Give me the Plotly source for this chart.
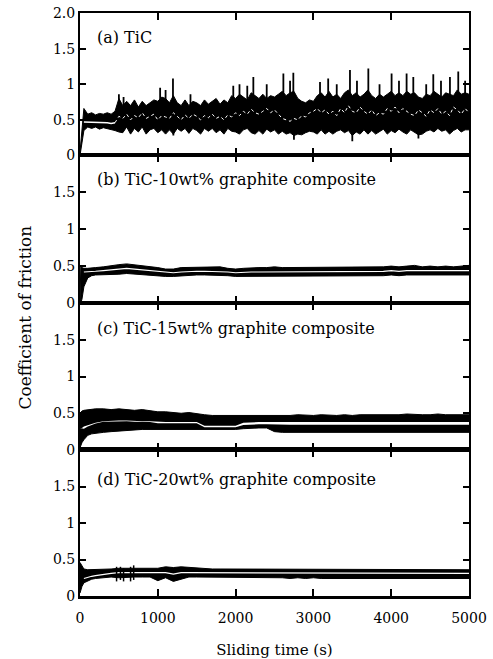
import plotly.graph_objects as go
from plotly.subplots import make_subplots

# ---------------- data ----------------
# (a) TiC : sampled every 50 s
time_a = list(range(0, 5001, 50))
upper_a = [0.05, 0.66, 0.58, 0.60, 0.57, 0.59, 0.58, 0.60, 0.58, 0.62,
           0.80, 0.70, 0.76, 0.70, 0.78, 0.68, 0.76, 0.70, 0.74, 0.78,
           0.76, 0.82, 0.80, 0.74, 0.84, 0.74, 0.70, 0.78, 0.70, 0.76,
           0.74, 0.70, 0.78, 0.72, 0.76, 0.80, 0.72, 0.78, 0.74, 0.84,
           0.80, 0.86, 0.82, 0.78, 0.88, 0.84, 0.80, 0.86, 0.80, 0.84,
           0.82, 0.86, 0.90, 0.84, 0.88, 0.90, 0.80, 0.76, 0.74, 0.78,
           0.76, 0.84, 0.88, 0.82, 0.90, 0.82, 0.86, 0.80, 0.88, 0.92,
           0.84, 0.88, 0.82, 0.86, 0.92, 0.84, 0.80, 0.86, 0.82, 0.86,
           0.90, 0.84, 0.88, 0.84, 0.90, 0.86, 0.88, 0.82, 0.80, 0.86,
           0.84, 0.90, 0.86, 0.82, 0.88, 0.86, 0.84, 0.92, 0.86, 0.88,
           0.86]
lower_a = [0.00, 0.35, 0.40, 0.38, 0.40, 0.37, 0.39, 0.38, 0.36, 0.35,
           0.33, 0.32, 0.40, 0.30, 0.38, 0.33, 0.40, 0.30, 0.36, 0.38,
           0.32, 0.36, 0.30, 0.36, 0.30, 0.38, 0.34, 0.38, 0.31, 0.38,
           0.35, 0.30, 0.38, 0.34, 0.38, 0.32, 0.36, 0.30, 0.38, 0.34,
           0.33, 0.30, 0.36, 0.38, 0.32, 0.30, 0.35, 0.30, 0.37, 0.33,
           0.36, 0.30, 0.34, 0.30, 0.32, 0.28, 0.30, 0.29, 0.32, 0.34,
           0.33, 0.30, 0.36, 0.30, 0.34, 0.30, 0.34, 0.36, 0.32, 0.35,
           0.28, 0.33, 0.30, 0.36, 0.30, 0.35, 0.30, 0.34, 0.37, 0.30,
           0.35, 0.32, 0.37, 0.33, 0.30, 0.36, 0.32, 0.29, 0.30, 0.34,
           0.36, 0.33, 0.38, 0.34, 0.36, 0.30, 0.35, 0.38, 0.33, 0.36,
           0.36]
mid_a = [0.02, 0.47, 0.47, 0.46, 0.47, 0.46, 0.47, 0.46, 0.45, 0.46,
         0.55, 0.52, 0.58, 0.50, 0.56, 0.53, 0.60, 0.52, 0.55, 0.58,
         0.50, 0.56, 0.54, 0.52, 0.60, 0.55, 0.50, 0.57, 0.52, 0.58,
         0.55, 0.50, 0.56, 0.53, 0.58, 0.52, 0.55, 0.50, 0.57, 0.54,
         0.60, 0.56, 0.62, 0.58, 0.65, 0.60, 0.58, 0.62, 0.66, 0.60,
         0.64, 0.58, 0.52, 0.50, 0.48, 0.52, 0.50, 0.56, 0.54, 0.60,
         0.62, 0.66, 0.60, 0.64, 0.58, 0.62, 0.56, 0.66, 0.60, 0.70,
         0.62, 0.60, 0.68, 0.62, 0.58, 0.64, 0.56, 0.60, 0.58, 0.66,
         0.62, 0.68, 0.60, 0.66, 0.62, 0.58, 0.56, 0.64, 0.60, 0.55,
         0.64, 0.60, 0.66, 0.58, 0.62, 0.56, 0.68, 0.64, 0.58, 0.66,
         0.60]
# narrow excursions of (a): time, peak value (upward spikes)
spike_t_a = [500, 560, 1030, 1100, 1195, 1420, 1970, 2050, 2150, 2228, 2400,
             2614, 2700, 2742, 3085, 3190, 3300, 3470, 3560, 3706, 3850,
             4005, 4100, 4198, 4284, 4450, 4541, 4640, 4755, 4862, 4950]
spike_hi_a = [0.86, 0.82, 0.95, 0.92, 1.08, 0.86, 0.98, 1.00, 0.98, 1.10, 1.00,
              1.15, 1.05, 1.16, 1.03, 1.08, 1.00, 1.20, 1.05, 1.22, 1.00,
              1.15, 1.05, 1.15, 1.10, 1.00, 1.14, 1.05, 1.10, 1.18, 1.05]
# downward dips of (a): time, minimum value
dip_t_a = [1200, 2750, 3500, 4350]
dip_lo_a = [0.28, 0.22, 0.20, 0.24]

# (b)-(d) composites: common sampling times
time_bcd = [0, 10, 25, 50, 100, 150] + list(range(200, 5001, 100))

# (b) TiC-10wt% graphite
top_b = [0.00, 0.49, 0.48, 0.47, 0.47, 0.48, 0.48,
         0.49, 0.51, 0.52, 0.53, 0.52, 0.51, 0.49,
         0.48, 0.46, 0.46, 0.48, 0.48, 0.49, 0.48,
         0.48, 0.49, 0.47, 0.46, 0.47, 0.48, 0.48,
         0.48, 0.49, 0.48, 0.48, 0.49, 0.48, 0.48,
         0.49, 0.48, 0.48, 0.49, 0.48, 0.49, 0.49,
         0.48, 0.49, 0.50, 0.49, 0.50, 0.51, 0.49,
         0.50, 0.49, 0.50, 0.49, 0.50, 0.51]
bot_b = [0.00, 0.00, 0.05, 0.22, 0.34, 0.37, 0.38,
         0.38, 0.39, 0.39, 0.40, 0.39, 0.39, 0.38,
         0.37, 0.36, 0.36, 0.37, 0.38, 0.38, 0.38,
         0.38, 0.38, 0.37, 0.36, 0.36, 0.37, 0.37,
         0.37, 0.37, 0.37, 0.37, 0.37, 0.37, 0.37,
         0.37, 0.37, 0.37, 0.37, 0.37, 0.37, 0.37,
         0.37, 0.37, 0.38, 0.37, 0.38, 0.38, 0.37,
         0.38, 0.37, 0.38, 0.37, 0.38, 0.38]
mid_b = [None, None, None, 0.42, 0.42, 0.43, 0.43,
         0.44, 0.45, 0.46, 0.47, 0.46, 0.45, 0.44,
         0.43, 0.41, 0.41, 0.42, 0.43, 0.43, 0.43,
         0.43, 0.43, 0.42, 0.41, 0.42, 0.42, 0.42,
         0.42, 0.43, 0.42, 0.42, 0.43, 0.42, 0.42,
         0.43, 0.42, 0.42, 0.43, 0.42, 0.43, 0.43,
         0.42, 0.43, 0.44, 0.43, 0.44, 0.44, 0.43,
         0.44, 0.43, 0.44, 0.43, 0.44, 0.44]

# (c) TiC-15wt% graphite
top_c = [0.50, 0.52, 0.53, 0.54, 0.55, 0.55, 0.56,
         0.56, 0.55, 0.56, 0.55, 0.54, 0.55, 0.53,
         0.52, 0.52, 0.51, 0.50, 0.51, 0.49, 0.48,
         0.47, 0.47, 0.46, 0.47, 0.46, 0.46, 0.46,
         0.46, 0.47, 0.47, 0.47, 0.48, 0.47, 0.47,
         0.48, 0.47, 0.47, 0.48, 0.47, 0.48, 0.48,
         0.47, 0.48, 0.48, 0.48, 0.49, 0.48, 0.48,
         0.48, 0.49, 0.48, 0.48, 0.48, 0.48]
bot_c = [0.03, 0.06, 0.10, 0.14, 0.20, 0.22, 0.23,
         0.24, 0.25, 0.26, 0.27, 0.27, 0.28, 0.28,
         0.28, 0.28, 0.28, 0.28, 0.28, 0.28, 0.27,
         0.27, 0.28, 0.27, 0.28, 0.29, 0.30, 0.30,
         0.30, 0.25, 0.24, 0.24, 0.24, 0.23, 0.24,
         0.24, 0.24, 0.23, 0.24, 0.24, 0.23, 0.24,
         0.24, 0.23, 0.24, 0.24, 0.23, 0.24, 0.24,
         0.23, 0.24, 0.24, 0.23, 0.24, 0.24]
gap_hi_c = [0.30, 0.30, 0.30, 0.32, 0.34, 0.36, 0.37,
            0.39, 0.40, 0.40, 0.40, 0.39, 0.39, 0.39,
            0.38, 0.38, 0.38, 0.38, 0.38, 0.38, 0.33,
            0.33, 0.33, 0.33, 0.33, 0.37, 0.38, 0.38,
            0.38, 0.38, 0.38, 0.38, 0.38, 0.38, 0.38,
            0.38, 0.38, 0.385, 0.38, 0.38, 0.385, 0.38,
            0.38, 0.385, 0.38, 0.38, 0.385, 0.38, 0.38,
            0.385, 0.38, 0.38, 0.385, 0.38, 0.38]
gap_lo_c = [0.30, 0.30, 0.30, 0.29, 0.32, 0.345, 0.36,
            0.385, 0.39, 0.39, 0.39, 0.385, 0.385, 0.38,
            0.365, 0.365, 0.365, 0.365, 0.365, 0.365, 0.31,
            0.31, 0.31, 0.31, 0.31, 0.34, 0.35, 0.35,
            0.35, 0.345, 0.345, 0.345, 0.345, 0.345, 0.345,
            0.345, 0.345, 0.345, 0.345, 0.345, 0.345, 0.345,
            0.345, 0.345, 0.345, 0.345, 0.345, 0.345, 0.345,
            0.345, 0.345, 0.345, 0.345, 0.345, 0.345]

# (d) TiC-20wt% graphite
top_d = [0.46, 0.44, 0.40, 0.37, 0.36, 0.36, 0.36,
         0.37, 0.37, 0.38, 0.38, 0.38, 0.37, 0.37,
         0.38, 0.40, 0.39, 0.40, 0.39, 0.39, 0.38,
         0.37, 0.37, 0.37, 0.36, 0.36, 0.36, 0.36,
         0.36, 0.36, 0.36, 0.37, 0.36, 0.36, 0.36,
         0.36, 0.36, 0.36, 0.36, 0.36, 0.36, 0.36,
         0.36, 0.36, 0.36, 0.36, 0.36, 0.36, 0.36,
         0.36, 0.36, 0.36, 0.36, 0.36, 0.36]
bot_d = [0.04, 0.08, 0.13, 0.18, 0.21, 0.23, 0.24,
         0.25, 0.26, 0.25, 0.26, 0.26, 0.26, 0.26,
         0.21, 0.25, 0.20, 0.23, 0.26, 0.26, 0.26,
         0.26, 0.26, 0.26, 0.25, 0.25, 0.25, 0.25,
         0.25, 0.25, 0.25, 0.24, 0.25, 0.24, 0.25,
         0.24, 0.24, 0.25, 0.24, 0.24, 0.24, 0.25,
         0.24, 0.24, 0.24, 0.24, 0.24, 0.24, 0.24,
         0.24, 0.24, 0.24, 0.24, 0.24, 0.24]
mid_d = [None, None, None, 0.24, 0.26, 0.27, 0.28,
         0.30, 0.31, 0.32, 0.32, 0.32, 0.32, 0.32,
         0.31, 0.32, 0.30, 0.32, 0.32, 0.32, 0.32,
         0.32, 0.32, 0.32, 0.32, 0.32, 0.32, 0.32,
         0.32, 0.32, 0.32, 0.31, 0.32, 0.31, 0.31,
         0.31, 0.31, 0.31, 0.31, 0.31, 0.31, 0.31,
         0.31, 0.31, 0.31, 0.31, 0.31, 0.31, 0.31,
         0.31, 0.31, 0.31, 0.31, 0.31, 0.31]
spike_t_d = [470, 520, 560, 650, 690]
spike_lo_d = [0.20, 0.22, 0.20, 0.20, 0.22]
spike_hi_d = [0.40, 0.40, 0.38, 0.40, 0.42]

panel_labels = ["(a) TiC",
                "(b) TiC-10wt% graphite composite",
                "(c) TiC-15wt% graphite composite",
                "(d) TiC-20wt% graphite composite"]
x_ticks = [0, 1000, 2000, 3000, 4000, 5000]
y_ticks_top = [0, 0.5, 1, 1.5, 2]
y_ticktext_top = ["0", "0.5", "1", "1.5", "2.0"]
y_ticks = [0, 0.5, 1, 1.5]
y_ticktext = ["0", "0.5", "1", "1.5"]

# ---------------- figure ----------------
fig = make_subplots(rows=4, cols=1, shared_xaxes=True, vertical_spacing=0)


def band(row, t, top, bot, color, edge=0.8):
    fig.add_trace(go.Scatter(x=t, y=bot, mode="lines",
                             line=dict(width=edge, color=color),
                             hoverinfo="skip", showlegend=False), row=row, col=1)
    fig.add_trace(go.Scatter(x=t, y=top, mode="lines",
                             line=dict(width=edge, color=color),
                             fill="tonexty", fillcolor=color,
                             hoverinfo="skip", showlegend=False), row=row, col=1)


def wline(row, t, y, width=1.3, dash="solid"):
    fig.add_trace(go.Scatter(x=t, y=y, mode="lines",
                             line=dict(width=width, color="white", dash=dash),
                             hoverinfo="skip", showlegend=False), row=row, col=1)


def vsegs(row, ts, lo, hi, width=1.6):
    sx, sy = [], []
    for t, a, b in zip(ts, lo, hi):
        sx += [t, t, None]
        sy += [a, b, None]
    fig.add_trace(go.Scatter(x=sx, y=sy, mode="lines",
                             line=dict(width=width, color="black"),
                             hoverinfo="skip", showlegend=False), row=row, col=1)


# (a)
band(1, time_a, upper_a, lower_a, "black", edge=1.0)
vsegs(1, spike_t_a, [0.6] * len(spike_t_a), spike_hi_a, width=1.8)
vsegs(1, dip_t_a, [0.45] * len(dip_t_a), dip_lo_a, width=1.8)
wline(1, time_a[1:10], mid_a[1:10], width=1.4)
wline(1, time_a[9:], mid_a[9:], width=1.0, dash="dot")

# (b)
band(2, time_bcd, top_b, bot_b, "black", edge=1.0)
wline(2, time_bcd, mid_b, width=1.2)

# (c)
band(3, time_bcd, top_c, bot_c, "black", edge=1.0)
band(3, time_bcd, gap_hi_c, gap_lo_c, "white", edge=0)

# (d)
band(4, time_bcd, top_d, bot_d, "black", edge=1.0)
wline(4, time_bcd, mid_d, width=1.2)
vsegs(4, spike_t_d, spike_lo_d, spike_hi_d, width=1.5)

font_family = "DejaVu Serif, Liberation Serif, serif"
domains = [[0.7556, 1.0], [0.5026, 0.7556], [0.2504, 0.5026], [0.0, 0.2504]]
label_y = [0.83, 0.84, 0.825, 0.80]

for i in range(4):
    r = i + 1
    fig.update_xaxes(range=[0, 5000], tickvals=x_ticks, showline=True, linewidth=2,
                     linecolor="black", mirror="ticks", ticks="inside", ticklen=7,
                     tickwidth=1.6, tickcolor="black", showgrid=False, zeroline=False,
                     tickfont=dict(family=font_family, size=14), automargin=False,
                     row=r, col=1)
    fig.update_yaxes(range=[0, 2.0], domain=domains[i],
                     tickvals=y_ticks_top if i == 0 else y_ticks,
                     ticktext=y_ticktext_top if i == 0 else y_ticktext,
                     tickfont=dict(family=font_family, size=14), automargin=False,
                     showline=True, linewidth=2, linecolor="black", mirror="ticks",
                     ticks="inside", ticklen=6, tickwidth=1.6, tickcolor="black",
                     showgrid=False, zeroline=False, row=r, col=1)
    xref = "x domain" if i == 0 else f"x{r} domain"
    yref = "y domain" if i == 0 else f"y{r} domain"
    fig.add_annotation(text=panel_labels[i], xref=xref, yref=yref, x=0.038, y=label_y[i],
                       xanchor="left", yanchor="middle", showarrow=False,
                       font=dict(family=font_family, size=16, color="black"))

fig.update_xaxes(title=dict(text="Sliding time (s)", standoff=29,
                            font=dict(family=font_family, size=15)),
                 ticklabelstandoff=7, linewidth=3, row=4, col=1)

fig.add_annotation(text="Coefficient of friction", xref="paper", yref="paper",
                   x=-0.141, y=0.478, xanchor="center", yanchor="middle",
                   textangle=-90, showarrow=False,
                   font=dict(family=font_family, size=17, color="black"))

fig.update_layout(width=493, height=659,
                  margin=dict(l=80, r=24, t=13, b=63),
                  plot_bgcolor="white", paper_bgcolor="white",
                  font=dict(family=font_family, size=15, color="black"),
                  showlegend=False)

fig.write_html("out.html")
